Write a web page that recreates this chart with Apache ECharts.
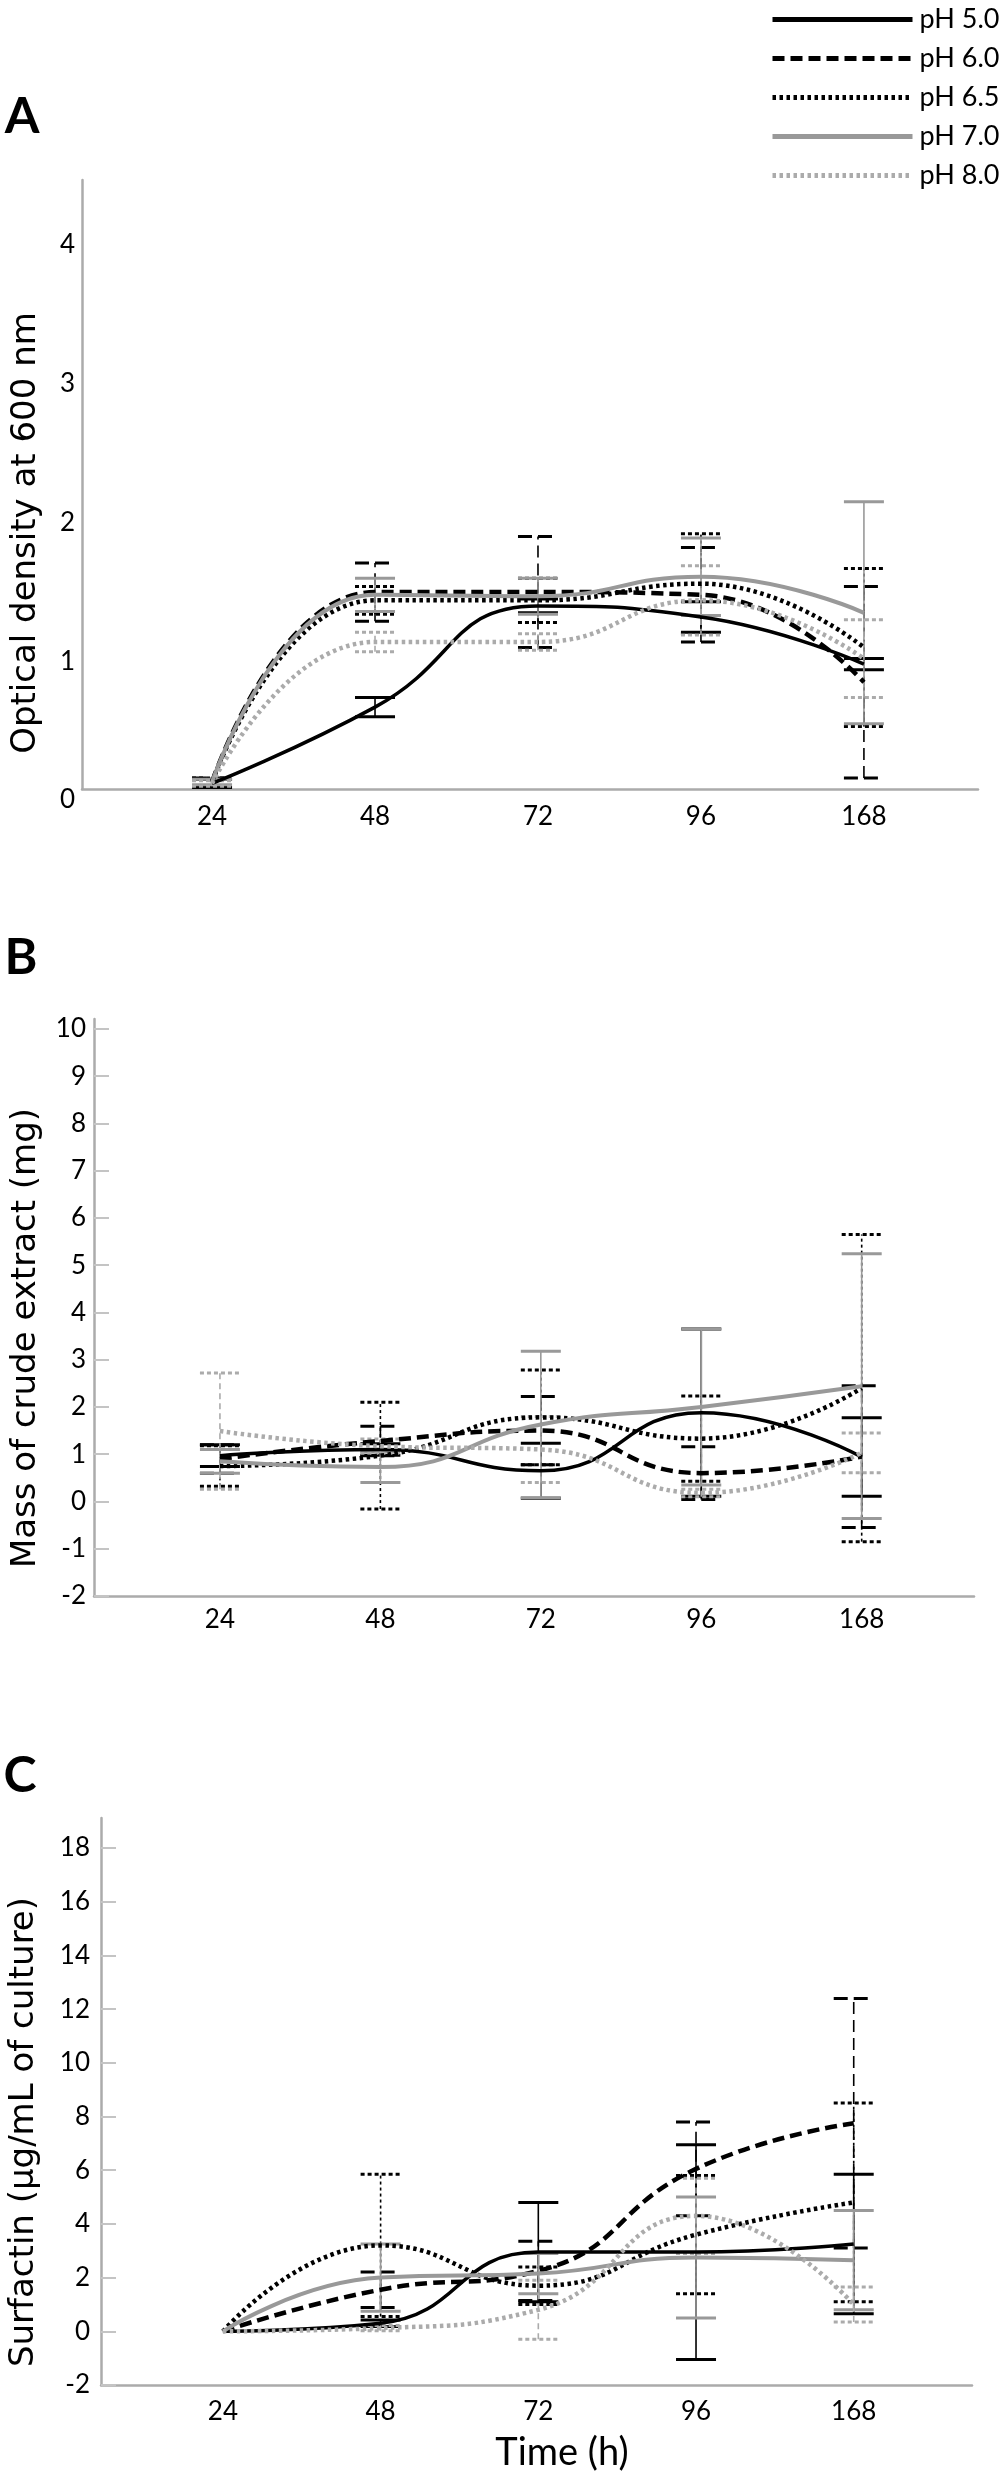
<!DOCTYPE html>
<html><head><meta charset="utf-8">
<script src="https://cdn.jsdelivr.net/npm/echarts@6/dist/echarts.min.js"></script>
<style>html,body{margin:0;padding:0;background:#fff}#chart{width:1001px;height:2481px}</style>
</head><body><div id="chart"></div>
<script>
// ---------- DATA ----------
const categories = ['24', '48', '72', '96', '168'];
const phLabels = ['pH 5.0', 'pH 6.0', 'pH 6.5', 'pH 7.0', 'pH 8.0'];
const yTicksA = [0, 1, 2, 3, 4];
const yTicksB = [-2, -1, 0, 1, 2, 3, 4, 5, 6, 7, 8, 9, 10];
const yTicksC = [-2, 0, 2, 4, 6, 8, 10, 12, 14, 16, 18];

// Panel A: optical density at 600 nm (mean, error)
const odMean_pH50 = [0.04, 0.59, 1.32, 1.24, 0.90];
const odErr_pH50  = [0.03, 0.07, 0.05, 0.11, 0.04];
const odMean_pH60 = [0.05, 1.42, 1.42, 1.40, 0.77];
const odErr_pH60  = [0.03, 0.21, 0.40, 0.34, 0.69];
const odMean_pH65 = [0.05, 1.36, 1.36, 1.48, 1.02];
const odErr_pH65  = [0.03, 0.10, 0.16, 0.36, 0.57];
const odMean_pH70 = [0.05, 1.40, 1.39, 1.53, 1.27];
const odErr_pH70  = [0.02, 0.12, 0.13, 0.28, 0.80];
const odMean_pH80 = [0.04, 1.06, 1.06, 1.36, 0.94];
const odErr_pH80  = [0.02, 0.07, 0.06, 0.25, 0.28];

// Panel B: mass of crude extract (mg)
const massMean_pH50 = [0.97, 1.10, 0.65, 1.88, 0.94];
const massErr_pH50  = [0.23, 0.12, 0.58, 1.77, 0.83];
const massMean_pH60 = [0.90, 1.28, 1.50, 0.60, 0.95];
const massErr_pH60  = [0.30, 0.31, 0.72, 0.56, 1.50];
const massMean_pH65 = [0.75, 0.97, 1.78, 1.33, 2.40];
const massErr_pH65  = [0.43, 1.13, 1.00, 0.90, 3.25];
const massMean_pH70 = [0.85, 0.73, 1.63, 2.00, 2.44];
const massErr_pH70  = [0.25, 0.33, 1.55, 1.65, 2.80];
const massMean_pH80 = [1.49, 1.17, 1.10, 0.18, 1.03];
const massErr_pH80  = [1.23, 0.15, 0.70, 0.08, 0.42];

// Panel C: surfactin (ug/mL of culture)
const surfMean_pH50 = [0, 0.30, 2.95, 2.95, 3.25];
const surfErr_pH50  = [0, 0.12, 1.85, 4.00, 2.60];
const surfMean_pH60 = [0, 1.55, 2.25, 6.05, 7.75];
const surfErr_pH60  = [0, 0.66, 1.10, 1.75, 4.65];
const surfMean_pH65 = [0, 3.20, 1.70, 3.60, 4.80];
const surfErr_pH65  = [0, 2.65, 0.70, 2.20, 3.70];
const surfMean_pH70 = [0, 2.00, 2.15, 2.75, 2.65];
const surfErr_pH70  = [0, 1.25, 0.75, 2.25, 1.85];
const surfMean_pH80 = [0, 0.12, 0.80, 4.30, 1.00];
const surfErr_pH80  = [0, 0.10, 1.10, 1.40, 0.65];

// ---------- STYLES ----------
const styles = [
  { color: '#000000', width: 3.5, type: 'solid', errDash: null, capDash: null },
  { color: '#000000', width: 4.5, type: [12, 6], errDash: [12, 6], capDash: [14, 6] },
  { color: '#000000', width: 4.5, type: [3.5, 3.5], errDash: [3, 3], capDash: [4, 3] },
  { color: '#999999', width: 4, type: 'solid', errDash: null, capDash: null },
  { color: '#ababab', width: 4.5, type: [3.5, 3.5], errDash: [6, 4], capDash: [4, 3] }
];

const panels = [
  { means: [odMean_pH50, odMean_pH60, odMean_pH65, odMean_pH70, odMean_pH80],
    errs: [odErr_pH50, odErr_pH60, odErr_pH65, odErr_pH70, odErr_pH80] },
  { means: [massMean_pH50, massMean_pH60, massMean_pH65, massMean_pH70, massMean_pH80],
    errs: [massErr_pH50, massErr_pH60, massErr_pH65, massErr_pH70, massErr_pH80] },
  { means: [surfMean_pH50, surfMean_pH60, surfMean_pH65, surfMean_pH70, surfMean_pH80],
    errs: [surfErr_pH50, surfErr_pH60, surfErr_pH65, surfErr_pH70, surfErr_pH80] }
];

const FONT = 'Lato, "Open Sans", sans-serif';
const TITLE_FONT = '"DejaVu Sans", Verdana, sans-serif';
const AXIS_GRAY = '#ababab';

function errRender(st) {
  return function (params, api) {
    const x = api.value(0), lo = api.value(1), hi = api.value(2);
    if (!(hi - lo > 0)) return null;
    const pLo = api.coord([x, lo]);
    const pHi = api.coord([x, hi]);
    const hw = 20;
    const base = { stroke: st.color, fill: null };
    return {
      type: 'group',
      children: [
        { type: 'line', shape: { x1: pLo[0], y1: pLo[1], x2: pHi[0], y2: pHi[1] },
          style: Object.assign({}, base, { lineWidth: 1.6, lineDash: st.errDash }) },
        { type: 'line', shape: { x1: pHi[0] - hw, y1: pHi[1], x2: pHi[0] + hw, y2: pHi[1] },
          style: Object.assign({}, base, { lineWidth: 3, lineDash: st.capDash }) },
        { type: 'line', shape: { x1: pLo[0] - hw, y1: pLo[1], x2: pLo[0] + hw, y2: pLo[1] },
          style: Object.assign({}, base, { lineWidth: 3, lineDash: st.capDash }) }
      ]
    };
  };
}

const series = [];
panels.forEach((p, gi) => {
  p.means.forEach((m, si) => {
    const st = styles[si];
    series.push({
      type: 'line', name: phLabels[si], xAxisIndex: gi, yAxisIndex: gi,
      data: m.map((v, i) => [i, v]),
      smooth: 0.5, symbol: 'none', showSymbol: false, z: 3,
      lineStyle: { color: st.color, width: st.width, type: st.type, cap: 'butt' },
      itemStyle: { color: st.color },
      emphasis: { disabled: true }
    });
  });
});
panels.forEach((p, gi) => {
  p.means.forEach((m, si) => {
    const st = styles[si];
    const e = p.errs[si];
    series.push({
      type: 'custom', name: phLabels[si], xAxisIndex: gi, yAxisIndex: gi, z: 2,
      renderItem: errRender(st),
      encode: { x: 0, y: [1, 2] },
      data: m.map((v, i) => [i, v - e[i], v + e[i]]),
      itemStyle: { color: st.color }
    });
  });
});

const grids = [
  { left: 82, top: 180, width: 896, height: 609 },
  { left: 94, top: 1019, width: 880, height: 577 },
  { left: 101, top: 1818, width: 871, height: 567 }
];
const xRanges = [[-0.798, 4.70], [-0.785, 4.70], [-0.773, 4.75]];
const yRanges = [[0, 4.39], [-2, 10.21], [-2, 19.12]];
const yTickSets = [yTicksA, yTicksB, yTicksC];
const xLabelMargins = [15, 11, 14];
const yLabelMargins = [7, 8, 11];

const xAxes = grids.map((g, i) => ({
  type: 'value', gridIndex: i, min: xRanges[i][0], max: xRanges[i][1],
  axisLine: { show: true, onZero: false, lineStyle: { color: AXIS_GRAY, width: 2.5 } },
  axisTick: { show: false },
  splitLine: { show: false },
  axisLabel: {
    customValues: [0, 1, 2, 3, 4],
    formatter: v => categories[Math.round(v)],
    color: '#000', fontSize: 26, fontFamily: FONT, margin: xLabelMargins[i]
  }
}));

const yAxes = grids.map((g, i) => ({
  type: 'value', gridIndex: i, min: yRanges[i][0], max: yRanges[i][1],
  axisLine: { show: true, onZero: false, lineStyle: { color: AXIS_GRAY, width: 2.5 } },
  axisTick: i === 0 ? { show: false } :
    { show: true, inside: true, length: 15, customValues: yTickSets[i], lineStyle: { color: '#c4c4c4', width: 2 } },
  splitLine: { show: false },
  axisLabel: Object.assign({
    customValues: yTickSets[i],
    color: '#000', fontSize: 26, fontFamily: FONT, margin: yLabelMargins[i]
  }, i === 0 ? { verticalAlign: 'top', lineHeight: 22 } : {})
}));

function vText(text, x, y) {
  return { type: 'text', x: x, y: y, rotation: Math.PI / 2,
    style: { text: text, fontSize: 34, fontFamily: TITLE_FONT, fill: '#000', align: 'center', verticalAlign: 'middle' } };
}
function panelLabel(text, x, y) {
  return { type: 'text', x: x, y: y,
    style: { text: text, fontSize: 50, fontWeight: 'bold', fontFamily: FONT, fill: '#000', align: 'center', verticalAlign: 'middle' } };
}

const option = {
  animation: false,
  backgroundColor: '#ffffff',
  grid: grids.map(g => Object.assign({ outerBoundsMode: 'none', containLabel: false }, g)),
  xAxis: xAxes,
  yAxis: yAxes,
  legend: {
    orient: 'vertical', left: 765, top: 1,
    itemWidth: 140, itemHeight: 20, itemGap: 12,
    data: phLabels,
    lineStyle: { width: 5 },
    itemStyle: { opacity: 0, color: 'rgba(0,0,0,0)', borderWidth: 0 },
    textStyle: { fontSize: 27, fontFamily: FONT, color: '#000', padding: [0, 0, 0, 2] },
    selectedMode: false
  },
  graphic: [
    panelLabel('A', 22, 117),
    panelLabel('B', 21, 958),
    panelLabel('C', 20, 1776),
    vText('Optical density at 600 nm', 26, 533),
    vText('Mass of crude extract (mg)', 26, 1338),
    vText('Surfactin (µg/mL of culture)', 24, 2132),
    { type: 'text', x: 562, y: 2453,
      style: { text: 'Time (h)', fontSize: 38, fontFamily: FONT, fill: '#000', align: 'center', verticalAlign: 'middle' } }
  ],
  series: series
};

const chart = echarts.init(document.getElementById('chart'), null, { renderer: 'canvas', width: 1001, height: 2481 });
chart.setOption(option);
</script>
</body></html>
